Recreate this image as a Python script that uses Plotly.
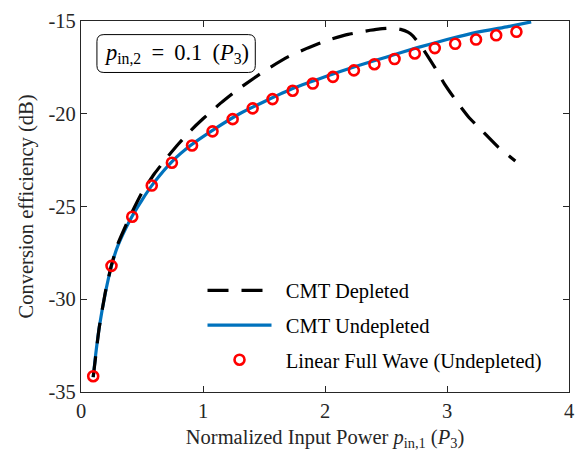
import plotly.graph_objects as go

# ---- data ----
fw_x = [0.10, 0.25, 0.42, 0.58, 0.745, 0.91, 1.078, 1.243, 1.407, 1.57, 1.735,
        1.90, 2.065, 2.237, 2.405, 2.57, 2.736, 2.90, 3.067, 3.238, 3.403, 3.569]
fw_y = [-34.15, -28.2, -25.55, -23.87, -22.64, -21.71, -20.95, -20.29, -19.71, -19.21, -18.76,
        -18.37, -18.01, -17.66, -17.33, -17.05, -16.75, -16.46, -16.23, -16.0, -15.77, -15.58]

und_x = [0.10, 0.12, 0.15, 0.20, 0.25, 0.30, 0.40, 0.50, 0.60, 0.75, 0.90, 1.10,
         1.30, 1.50, 1.75, 2.00, 2.25, 2.50, 2.75, 3.00, 3.25, 3.50, 3.69]
und_y = [-34.2, -33.0, -31.5, -29.65, -28.2, -27.15, -25.75, -24.65, -23.7, -22.55, -21.7, -20.8,
         -20.0, -19.35, -18.6, -18.0, -17.45, -16.95, -16.45, -16.0, -15.6, -15.3, -15.05]

dep_x = [0.10, 0.15, 0.20, 0.25, 0.30, 0.40, 0.50, 0.60, 0.70, 0.80, 0.90, 1.00, 1.15,
         1.27, 1.42, 1.55, 1.70, 1.86, 2.03, 2.19, 2.37, 2.45, 2.55, 2.62, 2.68, 2.72,
         2.80, 2.90, 2.98, 3.08, 3.18, 3.30, 3.42, 3.56]
dep_y = [-34.2, -31.5, -29.6, -28.15, -27.05, -25.55, -24.25, -23.25, -22.4, -21.62, -20.9, -20.27, -19.4,
         -18.77, -18.07, -17.5, -16.92, -16.45, -16.02, -15.72, -15.5, -15.42, -15.38, -15.45, -15.6, -15.8,
         -16.47, -17.5, -18.4, -19.35, -20.2, -21.0, -21.8, -22.55]

x_ticks = [0, 1, 2, 3, 4]
y_ticks = [-35, -30, -25, -20, -15]

FONT = "Liberation Serif, Times New Roman, serif"
FS = 20.5
PAD = "\u00a0\u2009"

fig = go.Figure()

fig.add_trace(go.Scatter(
    x=und_x, y=und_y, mode="lines", name=PAD + "CMT Undepleted", legendgroup="b",
    line=dict(color="#0072BD", width=3.2, shape="spline", smoothing=0.5), legendrank=2))
fig.add_trace(go.Scatter(
    x=dep_x, y=dep_y, mode="lines", name=PAD + "CMT Depleted", legendgroup="a",
    line=dict(color="black", width=3.2, dash="21px,13px", shape="spline", smoothing=0.4),
    legendrank=1))
fig.add_trace(go.Scatter(
    x=fw_x, y=fw_y, mode="markers", name=PAD + "Linear Full Wave (Undepleted)", legendgroup="c",
    marker=dict(symbol="circle-open", size=10, color="red", line=dict(width=2.6, color="red")),
    legendrank=3))

# rounded text box (paper coordinates)
L, R, T, B = 97, 256, 24, 63
pl, pr, pt, pb = 81, 571, 10, 392
def px(x):
    return (x - pl) / (pr - pl)
def py(y):
    return (pb - y) / (pb - pt)
r = 7
path = (f"M {px(L + r)},{py(T)} L {px(R - r)},{py(T)} Q {px(R)},{py(T)} {px(R)},{py(T + r)} "
        f"L {px(R)},{py(B - r)} Q {px(R)},{py(B)} {px(R - r)},{py(B)} "
        f"L {px(L + r)},{py(B)} Q {px(L)},{py(B)} {px(L)},{py(B - r)} "
        f"L {px(L)},{py(T + r)} Q {px(L)},{py(T)} {px(L + r)},{py(T)} Z")
fig.add_shape(type="path", path=path, xref="paper", yref="paper",
              line=dict(color="black", width=1), fillcolor="white", layer="above")
fig.add_annotation(x=px((L + R) / 2), y=py((T + B) / 2), xref="paper", yref="paper",
                   xanchor="center", yanchor="middle", width=R - L - 4, height=B - T - 4,
                   align="center", valign="middle",
                   text="<i>p</i><sub>in,2</sub> \u2009= \u20090.1 \u2009(<i>P</i><sub>3</sub>)",
                   showarrow=False, font=dict(family=FONT, size=22.5, color="black"))

axis_common = dict(
    showline=True, linecolor="#262626", linewidth=1.2, mirror="ticks",
    ticks="inside", ticklen=6, tickwidth=1, tickcolor="#262626",
    showgrid=False, zeroline=False,
    tickfont=dict(family=FONT, size=FS, color="#262626"),
)

fig.update_layout(
    width=584, height=456,
    margin=dict(l=81, r=13, t=10, b=64),
    paper_bgcolor="white", plot_bgcolor="white",
    xaxis=dict(range=[0, 4], tickvals=x_ticks, ticktext=[str(v) for v in x_ticks],
               title=dict(text="Normalized Input Power <i>p</i><sub>in,1</sub> (<i>P</i><sub>3</sub>)",
                          font=dict(family=FONT, size=FS, color="#262626"), standoff=8),
               **axis_common),
    yaxis=dict(range=[-35, -15], tickvals=y_ticks, ticktext=[str(v) for v in y_ticks],
               title=dict(text="Conversion efficiency (dB)",
                          font=dict(family=FONT, size=FS, color="#262626"), standoff=9),
               **axis_common),
    legend=dict(x=px(203), y=py(267), xanchor="left", yanchor="top",
                bgcolor="rgba(0,0,0,0)", borderwidth=0,
                font=dict(family=FONT, size=FS, color="black"),
                itemwidth=64, tracegroupgap=5),
    showlegend=True,
)

fig.write_html("out.html", config={"displayModeBar": False},
               post_script="document.body.style.margin='0';document.body.style.overflow='hidden';")
